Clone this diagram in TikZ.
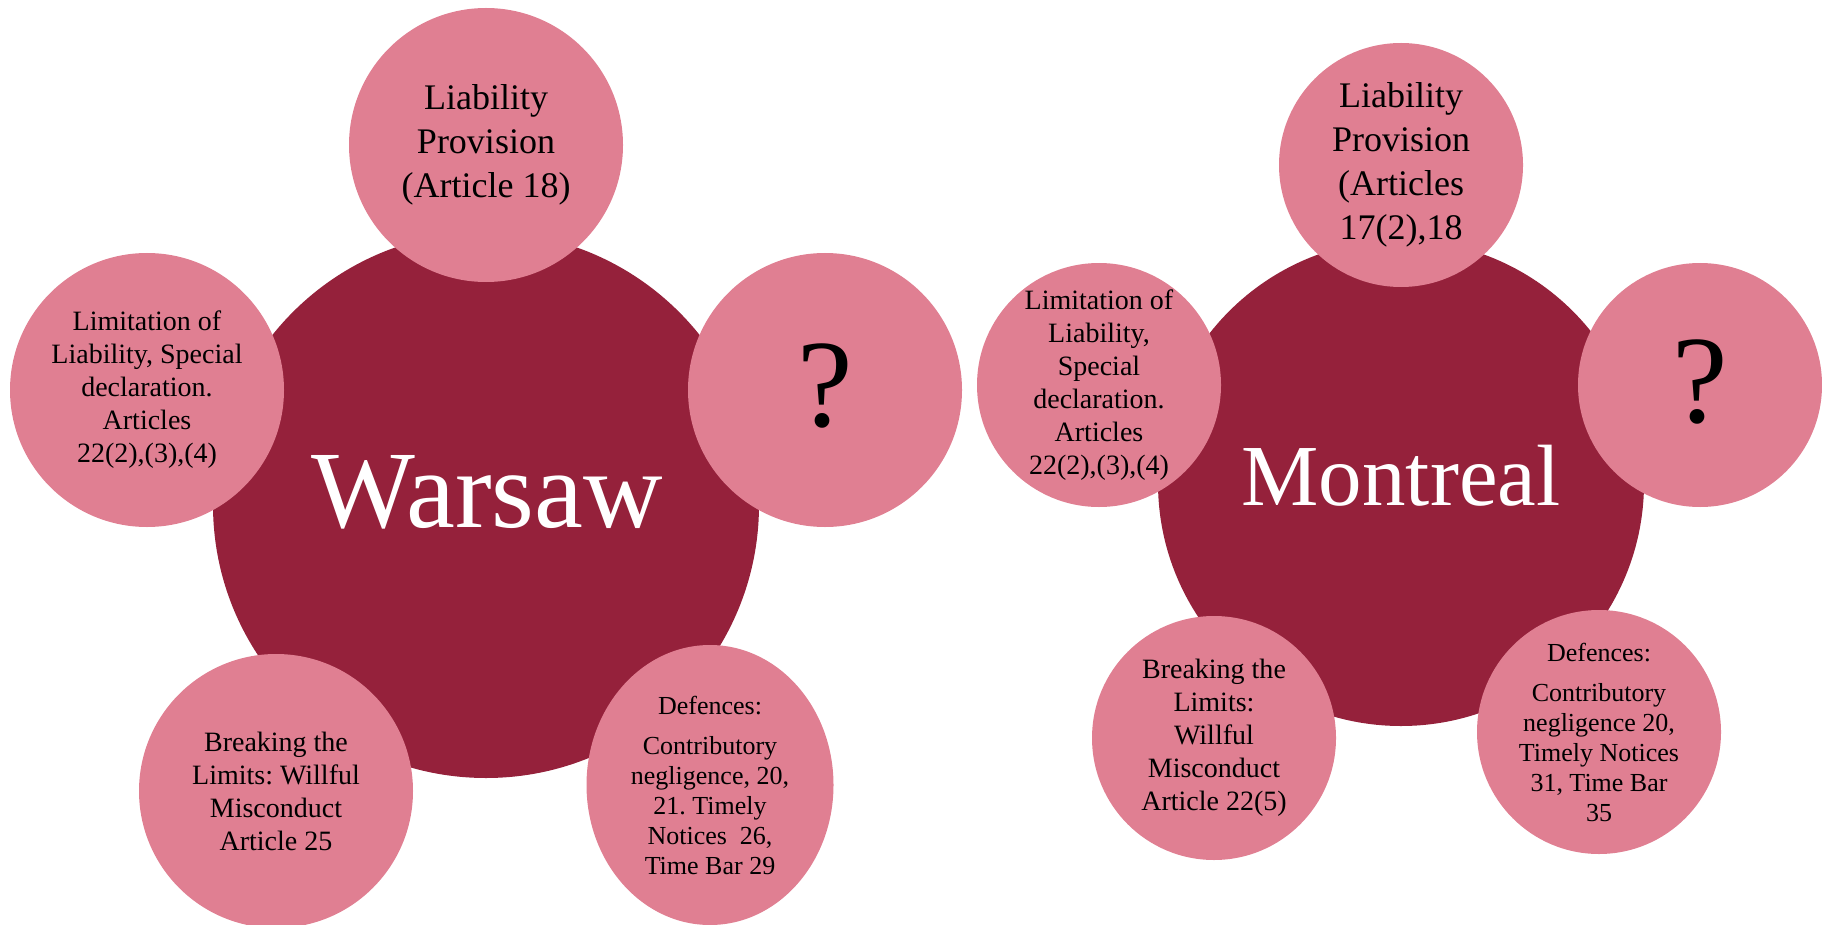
\documentclass[tikz,border=0pt]{standalone}
\usepackage{fontspec}
\setmainfont{Liberation Serif}
\usetikzlibrary{shapes.geometric}
\definecolor{darkred}{HTML}{95213B}
\definecolor{pinkc}{HTML}{E07F92}
\frenchspacing
\tikzset{
  bigc/.style={circle, fill=darkred, inner sep=0pt, text=white},
  satc/.style={circle, fill=pinkc, inner sep=0pt, text=black, align=center},
  satell/.style={ellipse, fill=pinkc, inner sep=0pt, text=black, align=center},
  fbig/.style={font=\fontsize{36}{44}\selectfont},
  fmid/.style={font=\fontsize{28}{33}\selectfont},
  fsml/.style={font=\fontsize{26}{30}\selectfont},
  fq/.style={font=\fontsize{125}{130}\selectfont},
}
\begin{document}
\begin{tikzpicture}[x=1pt,y=-1pt]
\useasboundingbox (0,0) rectangle (1822,925);
% Warsaw
\node[bigc, minimum size=546pt] (w) at (486,505) {};
\node[text=white, font=\fontsize{110}{120}\selectfont, inner sep=0pt] (wt) at (487,492) {Warsaw};
\node[satc, minimum size=274pt, fbig] (wtop) at (486,145) {Liability\\Provision\\(Article 18)};
\node[satc, minimum size=274pt, fmid] (wleft) at (147,390) {Limitation of\\Liability, Special\\declaration.\\Articles\\22(2),(3),(4)};
\node[satc, minimum size=274pt] (wright) at (825,390) {};
\node[fq, inner sep=0pt] (wq) at (825,386) {?};
\node[satc, minimum size=274pt, fmid] (wbl) at (276,791) {Breaking the\\Limits: Willful\\Misconduct\\Article 25};
\node[satell, minimum width=247pt, minimum height=280pt, fsml] (wbr) at (710,785) {Defences:\\[10pt]Contributory\\negligence, 20,\\21. Timely\\Notices\ \ 26,\\Time Bar 29};
% Montreal
\node[bigc, minimum size=486pt] (m) at (1401,483) {};
\node[text=white, font=\fontsize{87}{95}\selectfont, inner sep=0pt] (mt) at (1401,476) {Montreal};
\node[satc, minimum size=244pt, fbig] (mtop) at (1401,165) {Liability\\Provision\\(Articles\\17(2),18};
\node[satc, minimum size=244pt, fmid] (mleft) at (1099,385) {Limitation of\\Liability,\\Special\\declaration.\\Articles\\22(2),(3),(4)};
\node[satc, minimum size=244pt] (mright) at (1700,385) {};
\node[fq, inner sep=0pt] (mq) at (1700,382) {?};
\node[satc, minimum size=244pt, fmid] (mbl) at (1214,738) {Breaking the\\Limits:\\Willful\\Misconduct\\Article 22(5)};
\node[satc, minimum size=244pt, fsml] (mbr) at (1599,732) {Defences:\\[10pt]Contributory\\negligence 20,\\Timely Notices\\31, Time Bar\\35};
\end{tikzpicture}
\end{document}
